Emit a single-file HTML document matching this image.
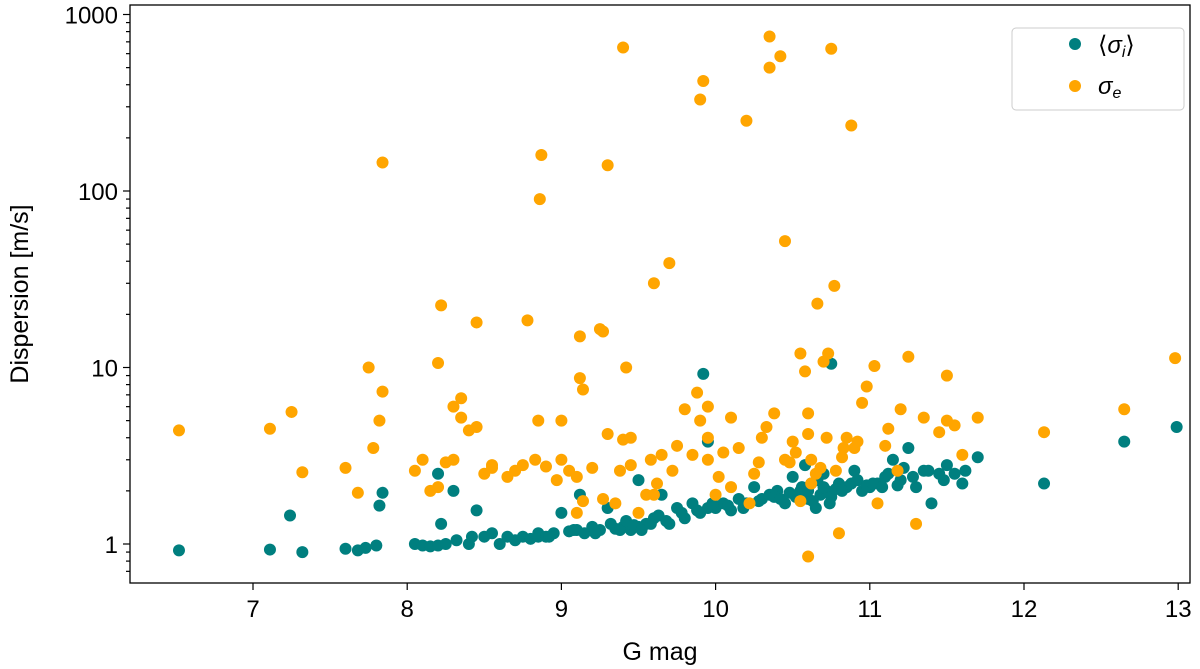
<!DOCTYPE html>
<html><head><meta charset="utf-8"><style>
body{margin:0;background:#fff;}
svg{display:block;font-family:"Liberation Sans","DejaVu Sans",sans-serif;}
</style></head><body>
<svg id="chart" width="1200" height="669" viewBox="0 0 1200 669">
<g id="marks"></g>
<rect x="130" y="5" width="1060" height="578" fill="none" stroke="#000" stroke-width="1.3"/>
<g id="axes"></g>
<text x="660" y="660" font-size="25" text-anchor="middle">G mag</text>
<text transform="translate(28,294) rotate(-90)" font-size="25" text-anchor="middle">Dispersion [m/s]</text>
<g>
<rect x="1012" y="28" width="172" height="82" rx="4" fill="#fff" stroke="#ccc"/>
<circle cx="1075" cy="44" r="6" fill="#007f7f"/>
<text x="1098" y="53" font-size="24">⟨<tspan font-style="italic">σ</tspan><tspan font-style="italic" font-size="16" dy="4">i</tspan><tspan dy="-4">⟩</tspan></text>
<circle cx="1075" cy="86" r="6" fill="#ffa500"/>
<text x="1098" y="94" font-size="24"><tspan font-style="italic">σ</tspan><tspan font-style="italic" font-size="16" dy="4">e</tspan></text>
</g>
</svg>
<script>
const orangeMag=[6.52,7.11,7.25,7.32,7.6,7.68,7.75,7.78,7.82,7.84,7.84,8.05,8.1,8.15,8.2,8.2,8.22,8.25,8.3,8.3,8.35,8.35,8.4,8.45,8.45,8.5,8.55,8.55,8.65,8.7,8.75,8.78,8.83,8.85,8.86,8.87,8.9,8.97,9.0,9.0,9.05,9.1,9.1,9.12,9.12,9.14,9.14,9.2,9.25,9.27,9.3,9.27,9.3,9.35,9.38,9.4,9.4,9.42,9.45,9.45,9.5,9.55,9.58,9.6,9.6,9.65,9.7,9.75,9.8,9.85,9.88,9.9,9.92,9.9,9.95,9.95,9.95,10.0,10.05,10.1,10.1,10.15,10.2,10.22,10.25,10.3,10.33,10.35,10.35,10.38,10.42,10.45,10.45,10.5,10.55,10.55,10.58,10.6,10.6,10.6,10.62,10.65,10.66,10.7,10.72,10.73,10.75,10.77,10.78,10.8,10.83,10.85,10.88,10.9,10.92,10.95,10.98,11.03,11.05,11.1,11.12,11.18,11.2,11.25,11.3,11.35,11.45,11.5,11.5,11.55,11.6,11.7,12.13,12.65,12.98,10.48,10.52,10.68,10.82,10.62,10.02,10.28,9.72,9.62];
const orangeVal=[4.4,4.5,5.6,2.55,2.7,1.95,10,3.5,5,7.3,145,2.6,3.0,2.0,2.1,10.6,22.5,2.9,3.0,6.0,6.7,5.2,4.4,4.6,18,2.5,2.8,2.7,2.4,2.6,2.8,18.5,3.0,5.0,90,160,2.75,2.3,5.0,3.0,2.6,1.5,2.4,8.7,15,7.5,1.75,2.7,16.5,16,140,1.8,4.2,1.7,2.6,3.9,650,10,2.8,4.0,1.5,1.9,3.0,30,1.9,3.2,39,3.6,5.8,3.2,7.2,330,420,5.0,6.0,4.0,3.0,1.9,3.3,5.2,2.1,3.5,250,1.7,2.5,4.0,4.6,750,500,5.5,580,52,3.0,3.8,12,1.75,9.5,5.5,4.2,0.85,3.0,2.5,23,10.8,4.0,12,640,29,2.6,1.15,3.5,4.0,235,3.5,3.8,6.3,7.8,10.2,1.7,3.6,4.5,2.6,5.8,11.5,1.3,5.2,4.3,9.0,5.0,4.7,3.2,5.2,4.3,5.8,11.3,2.9,3.3,2.7,3.1,2.2,2.4,2.9,2.6,2.2];
const tealMag=[6.52,7.11,7.24,7.32,7.6,7.68,7.73,7.8,7.82,7.84,8.05,8.1,8.15,8.2,8.2,8.22,8.25,8.3,8.32,8.4,8.42,8.45,8.5,8.55,8.6,8.7,8.75,8.8,8.85,8.85,8.9,8.95,9.0,9.05,9.1,9.12,9.15,9.2,9.25,9.3,9.35,9.4,9.45,9.5,9.5,9.55,9.6,9.65,9.7,9.75,9.8,9.85,9.9,9.92,9.95,9.95,10.0,10.05,10.1,10.15,10.2,10.25,10.3,10.35,10.4,10.45,10.5,10.55,10.58,10.6,10.62,10.65,10.68,10.7,10.72,10.75,10.75,10.8,10.85,10.9,10.95,11.0,11.05,11.1,11.15,11.2,11.25,11.3,11.35,11.4,11.45,11.5,11.55,11.6,11.7,12.13,12.65,12.99,9.32,9.38,9.42,9.47,9.52,9.58,9.63,9.68,9.78,9.88,9.98,10.08,10.18,10.28,10.38,10.42,10.48,10.52,10.56,10.6,10.63,10.66,10.7,10.74,10.78,10.82,10.88,10.92,10.98,11.02,11.08,11.12,11.18,11.22,11.28,11.38,11.48,11.62,8.65,8.92,9.08,9.22];
const tealVal=[0.92,0.93,1.45,0.9,0.94,0.92,0.95,0.98,1.65,1.95,1.0,0.98,0.97,0.98,2.5,1.3,1.0,2.0,1.05,1.0,1.1,1.55,1.1,1.15,1.0,1.05,1.1,1.07,1.15,1.1,1.1,1.15,1.5,1.18,1.2,1.9,1.15,1.25,1.2,1.6,1.22,1.25,1.2,2.3,1.25,1.3,1.4,1.9,1.3,1.6,1.4,1.7,1.5,9.2,3.8,1.6,1.6,1.7,1.55,1.8,1.7,2.1,1.8,1.9,2.0,1.7,2.4,2.0,2.8,1.8,2.2,1.6,1.9,2.5,2.0,10.5,1.85,2.2,2.1,2.6,2.0,2.1,2.2,2.4,3.0,2.3,3.5,2.1,2.6,1.7,2.5,2.8,2.5,2.2,3.1,2.2,3.8,4.6,1.3,1.2,1.35,1.28,1.2,1.3,1.45,1.35,1.5,1.55,1.7,1.65,1.6,1.75,1.85,1.8,1.95,1.85,2.1,2.0,1.75,2.3,2.1,1.7,2.05,2.0,2.2,2.3,2.15,2.2,2.1,2.5,2.15,2.7,2.4,2.6,2.3,2.6,1.1,1.1,1.2,1.15];
const xTicks=[7,8,9,10,11,12,13];
const yTicks=[1,10,100,1000];
const xs=m=>253+(m-7)*154.2;
const ys=v=>544-Math.log10(v)*176.5;
const NS="http://www.w3.org/2000/svg";
const marks=document.getElementById('marks'),axes=document.getElementById('axes');
function dot(mx,vy,col,name){const c=document.createElementNS(NS,'circle');
c.setAttribute('cx',xs(mx));c.setAttribute('cy',ys(vy));c.setAttribute('r',6);c.setAttribute('fill',col);


marks.appendChild(c);}
tealMag.forEach((m,i)=>dot(m,tealVal[i],'#007f7f','point-sigma-i'));
orangeMag.forEach((m,i)=>dot(m,orangeVal[i],'#ffa500','point-sigma-e'));
function line(x1,y1,x2,y2){const l=document.createElementNS(NS,'line');
l.setAttribute('x1',x1);l.setAttribute('y1',y1);l.setAttribute('x2',x2);l.setAttribute('y2',y2);l.setAttribute('stroke','#000');l.setAttribute('stroke-width',1.2);


axes.appendChild(l);}
function txt(x,y,s,anchor){const t=document.createElementNS(NS,'text');
t.setAttribute('x',x);t.setAttribute('y',y);t.setAttribute('font-size',24);t.setAttribute('text-anchor',anchor);t.textContent=s;


axes.appendChild(t);}
xTicks.forEach(t=>{line(xs(t),583,xs(t),590);txt(xs(t),617,String(t),'middle');});
yTicks.forEach(t=>{line(123,ys(t),130,ys(t));txt(118,ys(t)+9,String(t),'end');});
for(let d=0.1;d<1000;d*=10){for(let k=2;k<10;k++){const v=d*k;const y=ys(v);if(y>5&&y<583)line(126,y,130,y);}}
</script>
</body></html>
